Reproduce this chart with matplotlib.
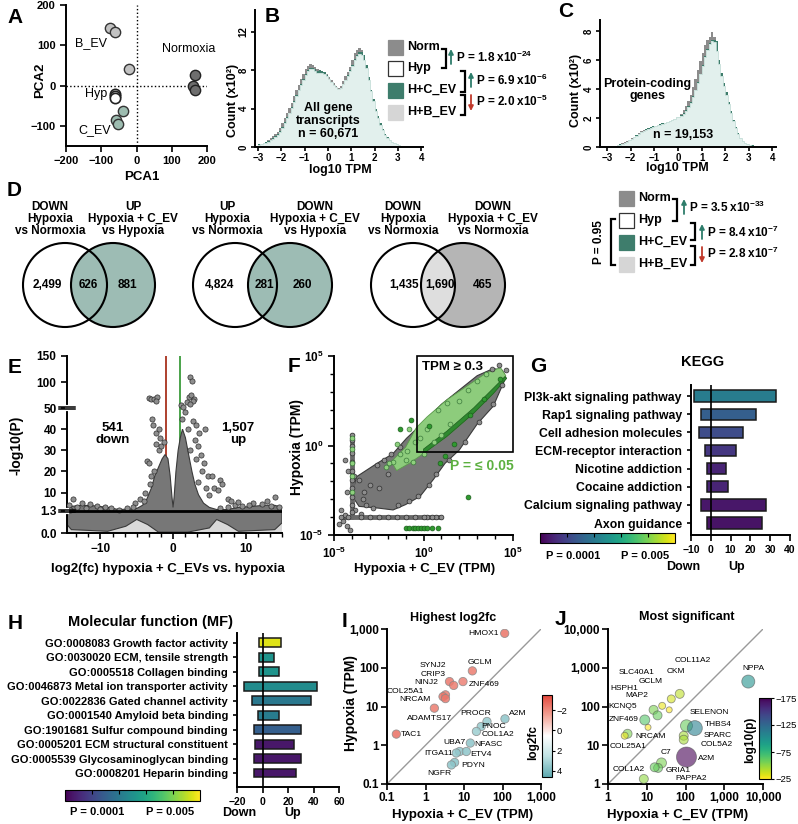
import numpy as np
import matplotlib
matplotlib.use('Agg')
import matplotlib.pyplot as plt
from matplotlib.patches import Circle, Rectangle, Polygon
from matplotlib.colors import LinearSegmentedColormap, LogNorm, Normalize
from matplotlib.cm import ScalarMappable
from matplotlib.ticker import NullLocator, NullFormatter, MultipleLocator

plt.rcParams['font.family'] = ['Liberation Sans', 'DejaVu Sans']
plt.rcParams['font.weight'] = 'bold'
plt.rcParams['axes.labelweight'] = 'bold'
plt.rcParams['mathtext.fontset'] = 'custom'
plt.rcParams['mathtext.rm'] = 'Liberation Sans:bold'
plt.rcParams['mathtext.bf'] = 'Liberation Sans:bold'
plt.rcParams['mathtext.it'] = 'Liberation Sans:bold'

W, H = 798, 824

# ---------------- data ----------------
# A: PCA scores
bev_pc1 = [-76, -62, -21]
bev_pc2 = [142, 133, 42]
norm_pc1 = [167, 160, 165]
norm_pc2 = [27, 0, -10]
hyp_pc1 = [-60, -60, -60]
hyp_pc2 = [-22, -25, -32]
cev_pc1 = [-38, -57, -52]
cev_pc2 = [-64, -85, -95]

# B/C: histograms of log10 TPM (counts x10^2), bins of 0.1 from -3 to 4
b_norm = [0.3, 0.35, 0.45, 0.55, 0.7, 0.9, 1.1, 1.35, 1.6, 2.0,
          2.5, 3.0, 3.6, 4.1, 4.6, 5.3, 5.9, 6.5, 7.1, 7.6,
          8.1, 8.5, 8.7, 8.6, 8.3, 8.1, 8.0, 7.9, 7.8, 7.6,
          7.3, 7.0, 6.7, 6.4, 6.2, 6.4, 6.9, 7.4, 7.8, 8.4,
          9.1, 9.8, 10.1, 10.3, 10.1, 9.3, 8.3, 7.0, 5.8, 4.8,
          3.9, 3.1, 2.4, 1.8, 1.3, 0.95, 0.7, 0.5, 0.38, 0.28,
          0.2, 0.15, 0.11, 0.08, 0.06, 0.04, 0.03, 0.02, 0.01, 0.01]
b_hcev = [0.28, 0.33, 0.4, 0.5, 0.6, 0.75, 0.9, 1.1, 1.35, 1.7,
          2.1, 2.6, 3.1, 3.6, 4.2, 4.8, 5.4, 6.0, 6.6, 7.1,
          7.6, 8.0, 8.2, 8.2, 8.1, 7.9, 8.0, 7.9, 7.8, 7.5,
          7.1, 6.8, 6.5, 6.3, 6.1, 6.2, 6.6, 7.0, 7.5, 8.0,
          8.6, 9.2, 9.6, 9.9, 9.9, 9.6, 8.6, 7.3, 6.0, 5.0,
          4.0, 3.2, 2.5, 1.85, 1.35, 1.0, 0.72, 0.52, 0.4, 0.29,
          0.2, 0.15, 0.11, 0.08, 0.06, 0.04, 0.03, 0.02, 0.01, 0.01]
b_light = [0.25, 0.3, 0.38, 0.45, 0.55, 0.7, 0.85, 1.05, 1.3, 1.6,
           2.0, 2.5, 3.0, 3.5, 4.1, 4.7, 5.3, 5.9, 6.5, 7.0,
           7.5, 7.9, 8.1, 8.1, 7.9, 7.7, 7.7, 7.7, 7.6, 7.4,
           7.1, 6.8, 6.5, 6.3, 6.1, 6.2, 6.6, 7.0, 7.4, 7.9,
           8.5, 9.1, 9.5, 9.7, 9.6, 9.1, 8.2, 7.0, 5.8, 4.8,
           3.8, 3.0, 2.3, 1.75, 1.3, 0.95, 0.7, 0.5, 0.38, 0.28,
           0.2, 0.15, 0.11, 0.08, 0.06, 0.04, 0.03, 0.02, 0.01, 0.01]
c_norm = [0.03, 0.05, 0.07, 0.1, 0.14, 0.19, 0.25, 0.32, 0.4, 0.5,
          0.6, 0.72, 0.85, 0.97, 1.08, 1.17, 1.25, 1.32, 1.38, 1.43,
          1.48, 1.52, 1.56, 1.6, 1.65, 1.7, 1.75, 1.82, 1.9, 2.0,
          2.1, 2.3, 2.55, 2.85, 3.2, 3.6, 4.1, 4.7, 5.3, 5.9,
          6.5, 7.0, 7.4, 7.6, 7.9, 7.6, 6.8, 5.8, 5.0, 4.4,
          3.7, 3.0, 2.4, 1.8, 1.3, 0.9, 0.6, 0.4, 0.28, 0.2,
          0.14, 0.1, 0.08, 0.06, 0.05, 0.04, 0.03, 0.02, 0.01, 0.01]
c_hcev = [0.03, 0.045, 0.065, 0.095, 0.13, 0.18, 0.23, 0.3, 0.37, 0.47,
          0.57, 0.68, 0.8, 0.92, 1.03, 1.13, 1.21, 1.29, 1.36, 1.42,
          1.47, 1.51, 1.56, 1.62, 1.68, 1.74, 1.8, 1.88, 1.96, 2.05,
          2.1, 2.2, 2.35, 2.55, 2.8, 3.1, 3.5, 3.95, 4.45, 5.05,
          5.65, 6.25, 6.75, 7.15, 7.35, 7.35, 7.3, 6.0, 5.1, 4.4,
          3.8, 3.1, 2.45, 1.85, 1.35, 0.95, 0.65, 0.42, 0.29, 0.21,
          0.15, 0.11, 0.08, 0.06, 0.05, 0.04, 0.03, 0.02, 0.01, 0.01]
c_light = [0.03, 0.04, 0.06, 0.09, 0.12, 0.17, 0.22, 0.28, 0.35, 0.45,
           0.55, 0.66, 0.78, 0.9, 1.0, 1.1, 1.18, 1.26, 1.33, 1.4,
           1.46, 1.5, 1.55, 1.6, 1.66, 1.72, 1.78, 1.86, 1.95, 2.05,
           2.05, 2.15, 2.3, 2.5, 2.75, 3.05, 3.45, 3.9, 4.4, 5.0,
           5.6, 6.2, 6.7, 7.1, 7.3, 7.2, 6.6, 5.7, 4.9, 4.2,
           3.6, 2.95, 2.35, 1.8, 1.3, 0.9, 0.6, 0.4, 0.28, 0.2,
           0.14, 0.1, 0.08, 0.06, 0.05, 0.04, 0.03, 0.02, 0.01, 0.01]
hist_labels = ['Norm', 'Hyp', 'H+C_EV', 'H+B_EV']
b_pvals = [r'P = 1.8 x10$^{-24}$', r'P = 6.9 x10$^{-6}$', r'P = 2.0 x10$^{-5}$']
c_pvals = [r'P = 3.5 x10$^{-33}$', r'P = 8.4 x10$^{-7}$', r'P = 2.8 x10$^{-7}$']

# D: Venn counts
venn_left_titles = ['DOWN\nHypoxia\nvs Normoxia', 'UP\nHypoxia\nvs Normoxia', 'DOWN\nHypoxia\nvs Normoxia']
venn_right_titles = ['UP\nHypoxia + C_EV\nvs Hypoxia', 'DOWN\nHypoxia + C_EV\nvs Hypoxia',
                     'DOWN\nHypoxia + C_EV\nvs Normoxia']
venn_left_only = [2499, 4824, 1435]
venn_overlap = [626, 281, 1690]
venn_right_only = [881, 260, 465]

# E: volcano (dense core outline + individual points), log2fc vs -log10(P)
e_cloud_x = [-14.6, -14.6, -14.0, -12.5, -11.0, -9.0, -7.5, -6.0, -5.0, -4.2, -3.6, -3.0, -2.5, -2.0,
             -1.5, -1.1, -0.7, -0.4, -0.15, 0.0, 0.15, 0.4, 0.7, 1.0, 1.3, 1.7, 2.2, 2.6, 3.0, 3.5,
             4.2, 5.0, 6.0, 7.5, 9.0, 11.0, 12.5, 14.0, 15.0, 15.0, 14.0, 9.0, 7.5, 6.0, 5.0, 2.0,
             -2.0, -3.5, -5.0, -6.5, -9.0, -14.0]
e_cloud_y = [0.5, 2.3, 3.5, 4.0, 3.8, 3.0, 2.0, 2.2, 2.5, 4.0, 7.0, 12.0, 18.0, 22.0,
             26.0, 28.0, 26.0, 18.0, 8.0, 3.0, 8.0, 20.0, 30.0, 36.0, 40.0, 36.0, 27.0, 20.0, 14.0, 9.0,
             5.0, 3.0, 2.0, 2.0, 3.0, 3.5, 4.0, 4.0, 3.0, 0.6, 0.2, 0.1, 0.5, 0.8, 0.3, 0.05,
             0.05, 0.5, 0.8, 0.4, 0.1, 0.2]
e_pts_x = [-3.3, -3.0, -2.6, -2.2, -2.4, -2.9, -2.7, -2.3, -2.0, -1.8, -3.6, -3.3, -2.4, -2.0, -1.6,
           -1.2, -2.6, -3.0, -3.2, -3.9, -4.5, -4.0, -5.2,
           2.3, 2.6, 2.2, 2.5, 2.9, 2.7, 1.9, 2.4, 1.1, 1.4, 1.6, 1.2, 2.8, 3.2, 4.4, 3.6, 2.0,
           3.0, 3.4, 3.8, 3.1, 2.3, 4.2, 4.0, 4.8, 5.3, 6.4, 6.8, 5.6, 6.2, 5.0, 7.5, 4.5, 3.5,
           -14.3, -13.8, -13.2, -12.5, -11.5, -10.5, -9.3, -8.5, -7.5, -6.3, -5.5, -14.2, -12.0, -10.0,
           14.0, 13.0, 12.2, 11.0, 10.5, 9.5, 8.5, 7.6, 6.5, 14.6, 13.5, 8.0, 9.0]
e_pts_y = [70, 68, 67, 72, 64, 45, 42, 38, 40, 36, 25, 24, 33, 30, 32,
           34, 20, 18, 14, 10, 7, 6, 5,
           110, 102, 72, 75, 68, 63, 62, 58, 55, 52, 48, 45, 44, 42, 40, 38, 40,
           35, 32, 28, 26, 30, 24, 20, 18, 18, 16, 14, 12, 11, 9, 7, 12, 15,
           4, 7, 3, 5, 4.5, 3.5, 3, 2.5, 2, 2.5, 3, 2, 2.5, 2.2,
           8, 6, 4.5, 5, 4, 3.5, 4, 3, 2.5, 3, 3.5, 6, 5.5]

# F: TPM scatter (log10 units): cloud outlines + individual points
f_gray_poly_lx = [-3.75, -2.6, -1.7, -0.95, 0.0, 1.0, 2.0, 3.0, 3.9, 4.4, 4.6, 3.9, 3.0, 2.0, 1.2,
                  0.55, -0.2, -1.0, -1.7, -2.5, -3.6, -4.0]
f_gray_poly_ly = [-1.75, -1.0, -0.45, 0.4, 1.3, 2.3, 3.1, 3.9, 4.3, 4.2, 3.8, 2.2, 1.2, -0.25, -1.0,
                  -1.9, -2.85, -3.3, -3.6, -3.5, -3.4, -2.8]
f_lgreen_poly_lx = [-1.8, -1.0, -0.4, 0.2, 1.3, 2.4, 3.5, 4.3, 4.6, 3.9, 2.8, 1.3, 0.0, -0.8, -1.5]
f_lgreen_poly_ly = [-0.9, -0.1, 1.0, 1.6, 2.55, 3.3, 4.05, 4.35, 3.9, 2.9, 1.8, 0.5, -0.45, -1.0, -1.4]
f_dgreen_poly_lx = [0.0, 1.3, 2.8, 3.9, 4.55, 4.65, 3.9, 2.8, 1.3, 0.0]
f_dgreen_poly_ly = [-0.2, 0.8, 2.1, 3.2, 3.85, 3.75, 2.9, 1.8, 0.5, -0.45]
f_gray_lx = [-4.7, -4.5, -4.3, -4.1, -4.4, -4.6, -3.8, -3.5, -3.2, -2.8, -3.3, -3.0, -3.6, -3.9, -2.6,
             -2.2, -1.8, -1.3, -2.0, -1.4, -0.8, -0.3, 0.3, 0.7, 1.4, 2.3, 3.1, 3.9, 4.4, 4.6, 4.2,
             3.8, -3.4, -2.5, -4.3, -4.2, -4.4,
             -4.0, -4.0, -4.0, -4.0, -4.0, -4.0, -4.0, -4.0, -4.0, -4.0, -4.0,
             -4.6, -3.5, -2.5, -1.5, -0.5, 0.2, 0.7, 1.0, -4.2, -3.0, -2.0, -1.0, 0.0, 0.5]
f_gray_ly = [-4.4, -4.2, -4.5, -4.7, -3.9, -3.6, -3.6, -3.8, -3.3, -3.5, -2.6, -2.2, -1.9, -1.7, -1.1,
             -0.8, -0.5, -0.1, -1.6, -3.3, -3.1, -2.8, -2.2, -1.6, -0.8, 0.2, 1.3, 2.3, 3.4, 4.2, 4.5,
             4.3, -3.0, -2.4, -2.6, -1.4, -0.8,
             -3.7, -3.3, -2.9, -2.4, -1.9, -1.4, -0.9, -0.4, 0.0, 0.3, 0.6,
             -4.0, -4.0, -4.0, -4.0, -4.0, -4.0, -4.0, -4.0, -4.0, -4.0, -4.0, -4.0, -4.0, -4.0]
f_lgreen_lx = [-4.0, -4.0, -4.0, -4.0, -4.0,
               -2.1, -1.7, -1.3, -0.9, -0.5, -0.2, 0.2, -1.9, -1.0, -0.6, 0.0, 0.6, 1.0, 1.5,
               2.0, 2.5, 3.0, 3.5, 0.8, 1.3, -0.8, -1.5]
f_lgreen_ly = [-2.6, -1.7, -1.0, -0.2, 0.4,
               -1.2, -0.9, -0.5, -0.3, 0.2, 0.4, 0.9, -1.0, -0.8, -0.9, -0.5, 0.2, 0.6, 1.2,
               2.5, 3.1, 3.6, 4.0, 2.0, 2.4, 0.9, 0.1]
f_dgreen_lx = [-1.0, -0.8, -0.6, -0.45, -0.3, -0.15, 0.0, 0.2, 0.5, 0.8,
               2.5, 1.2, 0.9, 1.7, 2.6, 3.4, 4.3, -1.3, -0.7, 0.3]
f_dgreen_ly = [-4.6, -4.6, -4.6, -4.6, -4.6, -4.6, -4.6, -4.6, -4.6, -4.6,
               -2.9, -0.6, -1.0, 0.1, 1.7, 2.6, 3.7, 0.9, 1.4, 1.1]

# G: KEGG pathways
kegg_terms = ['PI3k-akt signaling pathway', 'Rap1 signaling pathway', 'Cell adhesion molecules',
              'ECM-receptor interaction', 'Nicotine addiction', 'Cocaine addiction',
              'Calcium signaling pathway', 'Axon guidance']
kegg_down = [-8.5, -5, -6, -3, -2, -2, -5, -2]
kegg_up = [33, 23, 16.5, 12.5, 7.5, 8.5, 28, 26]
kegg_p = [3.6e-4, 1.5e-4, 9.2e-5, 5.5e-5, 3.6e-5, 3.6e-5, 2.7e-5, 2.5e-5]

# H: GO molecular function
mf_terms = ['GO:0008083 Growth factor activity', 'GO:0030020 ECM, tensile strength',
            'GO:0005518 Collagen binding', 'GO:0046873 Metal ion transporter activity',
            'GO:0022836 Gated channel activity', 'GO:0001540 Amyloid beta binding',
            'GO:1901681 Sulfur compound binding', 'GO:0005201 ECM structural constituent',
            'GO:0005539 Glycosaminoglycan binding', 'GO:0008201 Heparin binding']
mf_down = [-2.4, -2.4, -2.4, -14.2, -8.4, -3.7, -6.3, -5.5, -6.3, -6.3]
mf_up = [14.7, 8.7, 12.6, 42.5, 38.3, 12.6, 30.5, 25, 30.5, 26.5]
mf_p = [1.7e-2, 7.5e-4, 7.5e-4, 5.7e-4, 3.2e-4, 3.6e-4, 1.5e-4, 2.7e-5, 2.7e-5, 2.7e-5]

# I: highest log2fc genes
i_genes = ['HMOX1', 'GCLM', 'ZNF469', 'SYNJ2', 'CRIP3', 'NINJ2', 'COL25A1', 'NRCAM', 'ADAMTS17', 'TAC1',
           'A2M', 'PROCR', 'PNOC', 'COL1A2', 'NFASC', 'UBA7', 'ETV4', 'ITGA11', 'PDYN', 'NGFR']
i_hcev = [114, 16.5, 9.4, 4.2, 5.4, 3.3, 2.85, 3.3, 1.7, 0.175,
          116, 39.5, 28, 21, 14.6, 7.7, 11.5, 6.3, 5.7, 4.7]
i_hyp = [772, 83, 44, 44, 35, 20, 18, 16, 9.06, 1.94,
         4.8, 4.1, 3.05, 2.27, 1.14, 0.69, 0.69, 0.63, 0.36, 0.31]
i_log2fc = [-2.5, -2.3, -2.2, -2.4, -2.3, -2.3, -2.5, -2.4, -2.3, -2.6,
            3.6, 3.4, 3.4, 3.3, 3.6, 3.5, 3.6, 3.5, 3.7, 3.6]

# J: most significant genes
j_genes = ['COL11A2', 'CKM', 'SLC40A1', 'GCLM', 'HSPH1', 'MAP2', 'KCNQ5', 'ZNF469', 'NRCAM', 'COL25A1',
           'NPPA', 'SELENON', 'THBS4', 'SPARC', 'COL5A2', 'C7', 'A2M', 'COL1A2', 'GRIA1', 'PAPPA2']
j_hcev = [71, 43, 15, 25, 19, 38, 8.9, 10.8, 3.2, 2.7, 4170, 106, 174, 90, 90, 24, 106, 8.4, 19.6, 16]
j_hyp = [212, 157, 82, 104, 59, 82, 45, 29, 19.8, 17.6, 440, 31.8, 27.7, 17.6, 13.9, 3.5, 4.96, 1.35, 2.6, 2.7]
j_logp = [-40, -35, -55, -30, -60, -25, -65, -25, -55, -30, -100, -60, -110, -45, -45, -55, -175, -50, -60, -60]
j_bubble = [9, 8, 9, 7, 9, 6, 10, 6, 9, 7, 13, 12, 15, 9, 9, 10, 20, 9, 9, 9]

# label offsets (pixels) for gene names
i_offsets = [(-21, 0), (8, 8), (21, -3), (-17, 16), (-21, 11), (-19, 12), (-38, 5), (-31, -1), (-5, -10),
             (15, 0), (13, 5), (-11, 8), (12, 0), (22, -3), (18, -1), (-5, 9), (15, -3), (-18, 0),
             (19, -3), (-12, -9)]
j_offsets = [(13, 33), (5, 27), (-17, 37), (-11, 24), (-33, 27), (-32, 14), (-22, 13), (-24, 8), (23, -3),
             (3, -11), (5, 13), (23, 13), (23, 4), (34, 0), (33, -5), (4, 10), (20, -1), (-15, 9),
             (20, -3), (36, -11)]

# ---------------- styling helpers ----------------
GRAY = '#8c8c8c'
DKGREEN = '#3e7d6c'
LIGHT = '#e2f0ed'
TEAL = '#9dbcb4'


def px_rect(l, t, r, b):
    return [l / W, 1 - b / H, (r - l) / W, (b - t) / H]


def clean(ax, labelsize=8):
    for s in ('top', 'right'):
        ax.spines[s].set_visible(False)
    for s in ('left', 'bottom'):
        ax.spines[s].set_linewidth(1.4)
    ax.tick_params(width=1.2, length=4, labelsize=labelsize)


fig = plt.figure(figsize=(W / 100, H / 100), dpi=100)

# ---------------- A ----------------
ax = fig.add_axes(px_rect(66, 5, 207, 146))
clean(ax)
ax.axhline(0, color='k', ls=':', lw=1)
ax.axvline(0, color='k', ls=':', lw=1)
ax.scatter(bev_pc1, bev_pc2, s=55, c='#c2c2c2', edgecolors='#333', linewidths=1, zorder=3)
ax.scatter(norm_pc1, norm_pc2, s=55, c='#6e6e6e', edgecolors='#222', linewidths=1, zorder=3)
ax.scatter(hyp_pc1, hyp_pc2, s=55, c='white', edgecolors='#222', linewidths=1.2, zorder=3)
ax.scatter(cev_pc1, cev_pc2, s=55, c='#9dbcb0', edgecolors='#333', linewidths=1, zorder=3)
ax.set_xlim(-200, 200)
ax.set_ylim(-150, 200)
ax.set_xticks([-200, -100, 0, 100, 200])
ax.set_yticks([-100, 0, 100, 200])
for txt, x, y in [('B_EV', -128, 105), ('Normoxia', 147, 90), ('Hyp', -114, -22), ('C_EV', -119, -110)]:
    ax.text(x, y, txt, ha='center', va='center', fontsize=9, fontweight='normal')

# ---------------- B / C histograms ----------------
edges = np.round(np.linspace(-3, 4, 71), 2)
for rect, norm_v, hcev_v, light_v, xl, yl, yt in [
        ((255, 10, 423, 147), b_norm, b_hcev, b_light, (-3.13, 4.08), 14.3, [0, 4, 8, 12]),
        ((600, 20, 776, 147), c_norm, c_hcev, c_light, (-3.3, 4.15), 8.75, [0, 2, 4, 6, 8])]:
    ax = fig.add_axes(px_rect(*rect))
    clean(ax, labelsize=7)
    ax.tick_params(length=3, pad=1.5)
    ax.stairs(norm_v, edges, fill=True, color=GRAY)
    ax.stairs(hcev_v, edges, fill=True, color=DKGREEN)
    ax.stairs(light_v, edges, fill=True, color=LIGHT)
    ax.stairs(light_v, edges, color='#c3ddd7', lw=0.6)
    ax.set_xlim(*xl)
    ax.set_ylim(0, yl)
    ax.set_xticks(range(-3, 5))
    ax.set_yticks(yt)
    ax.tick_params(axis='y', labelrotation=90)
    for t in ax.get_yticklabels():
        t.set_va('center')

# ---------------- E volcano ----------------
e_brk_val = [0, 1.3, 50, 150]
e_brk_pos = [0, 0.1243, 0.706, 1.0]


def e_fwd(y):
    return np.interp(y, e_brk_val, e_brk_pos)


def e_inv(v):
    return np.interp(v, e_brk_pos, e_brk_val)


ax = fig.add_axes(px_rect(67, 356, 282, 533))
clean(ax, labelsize=8.5)
ax.set_yscale('function', functions=(e_fwd, e_inv))
ax.set_xlim(-14.6, 15.0)
ax.set_ylim(0, 150)
ax.axhspan(0, 1.3, color='#d9d9d9', zorder=0)
ax.axvline(-1, color='#a8321e', lw=1.3, zorder=1)
ax.axvline(1, color='#3c9c3c', lw=1.3, zorder=1)
ax.add_patch(Polygon(np.column_stack([e_cloud_x, e_cloud_y]), closed=True, fc='#777777',
                     ec='#3a3a3a', lw=0.8, zorder=2))
ax.scatter(e_pts_x, e_pts_y, s=14, c='#8e8e8e', edgecolors='#2e2e2e', linewidths=0.5, zorder=3)
ax.axhline(1.3, color='k', lw=2, zorder=4)
ax.set_yticks([0, 1.3, 10, 20, 30, 40, 50, 100, 150])
ax.set_yticklabels(['0.0', '1.3', '10', '20', '30', '40', '50', '100', '150'])
ax.yaxis.set_minor_locator(NullLocator())
ax.set_xticks([-10, 0, 10])
ax.xaxis.set_minor_locator(MultipleLocator(5 / 3))
ax.tick_params(which='minor', length=3, width=1)
for b in (1.3, 50):
    f = e_fwd(b)
    ax.plot([0, 0], [f - 0.008, f + 0.008], color='white', lw=3, transform=ax.transAxes,
            clip_on=False, zorder=6)
    for dy in (-0.007, 0.007):
        ax.plot([-0.035, 0.035], [f + dy, f + dy], color='k', lw=1.1, transform=ax.transAxes,
                clip_on=False, zorder=7)

# ---------------- F scatter ----------------
ax = fig.add_axes(px_rect(334, 356, 513, 535))
clean(ax, labelsize=8.5)
ax.set_xscale('log')
ax.set_yscale('log')
ax.set_xlim(1e-5, 1e5)
ax.set_ylim(1e-5, 1e5)


def poly_log(lx, ly, **kw):
    return Polygon(np.column_stack([10.0 ** np.array(lx), 10.0 ** np.array(ly)]), closed=True, **kw)


ax.add_patch(poly_log(f_gray_poly_lx, f_gray_poly_ly, fc='#777777', ec='#3a3a3a', lw=0.8, zorder=1))
ax.plot([1e-4, 1e-4], [10 ** -4.0, 10 ** 0.6], color='#6a6a6a', lw=3.5, zorder=1, solid_capstyle='round')
ax.plot([10 ** -4.6, 10 ** 1.0], [1e-4, 1e-4], color='#6a6a6a', lw=3.5, zorder=1, solid_capstyle='round')
ax.add_patch(poly_log(f_lgreen_poly_lx, f_lgreen_poly_ly, fc='#8dcc7c', ec='#5c9c4c', lw=0.6, zorder=2))
ax.add_patch(poly_log(f_dgreen_poly_lx, f_dgreen_poly_ly, fc='#2f8a2f', ec='#1d5e1d', lw=0.5, zorder=2))
ax.scatter(10.0 ** np.array(f_gray_lx), 10.0 ** np.array(f_gray_ly), s=12, c='#8e8e8e',
           edgecolors='#2e2e2e', linewidths=0.5, zorder=3)
ax.scatter(10.0 ** np.array(f_lgreen_lx), 10.0 ** np.array(f_lgreen_ly), s=12, c='#8fd07e',
           edgecolors='#3c7a3c', linewidths=0.5, zorder=4)
ax.scatter(10.0 ** np.array(f_dgreen_lx), 10.0 ** np.array(f_dgreen_ly), s=12, c='#2f9a2f',
           edgecolors='#1d5e1d', linewidths=0.5, zorder=4)
ax.add_patch(Rectangle((0.45, 0.45), 1e5 - 0.45, 1e5 - 0.45, fill=False, ec='k', lw=1.2,
                       clip_on=False, zorder=5))
ax.set_xticks([1e-5, 1, 1e5])
ax.set_yticks([1e-5, 1, 1e5])
ax.set_xticklabels([r'10$^{-5}$', r'10$^{0}$', r'10$^{5}$'])
ax.set_yticklabels([r'10$^{-5}$', r'10$^{0}$', r'10$^{5}$'])
ax.set_xticks([10.0 ** k for k in range(-5, 6)], minor=True)
ax.set_yticks([10.0 ** k for k in range(-5, 6)], minor=True)
ax.xaxis.set_minor_formatter(NullFormatter())
ax.yaxis.set_minor_formatter(NullFormatter())
ax.tick_params(which='minor', length=3, width=1)

# ---------------- G / H bar charts ----------------
pnorm = LogNorm(vmin=10 ** -4.76, vmax=10 ** -1.61)
vir = plt.get_cmap('viridis')


def updown(rect, terms, down, up, pv, xl, xt, ylim, fs):
    ax = fig.add_axes(px_rect(*rect))
    clean(ax, labelsize=7.5)
    yy = np.arange(len(terms))
    ax.barh(yy, np.array(up) - np.array(down), left=down, height=0.62, color=vir(pnorm(pv)),
            edgecolor='#1a1a1a', linewidth=1.1, zorder=2)
    ax.axvline(0, color='k', lw=1.2, zorder=3)
    ax.set_xlim(*xl)
    ax.set_ylim(*ylim)
    ax.set_xticks(xt)
    ax.set_yticks(yy)
    ax.set_yticklabels(terms, fontsize=fs)
    ax.tick_params(axis='y', length=3)
    return ax


updown((691, 385, 790, 535), kegg_terms, kegg_down, kegg_up, kegg_p, (-10, 40),
       [-10, 0, 10, 20, 30, 40], (7.66, -0.61), 8.8)
updown((237, 633, 339, 787), mf_terms, mf_down, mf_up, mf_p, (-20, 60),
       [-20, 0, 20, 40, 60], (9.97, -0.69), 8)

for rect in [(540, 533, 675, 543), (65, 790, 200, 801)]:
    cax = fig.add_axes(px_rect(*rect))
    cb = fig.colorbar(ScalarMappable(norm=Normalize(0, 1), cmap=vir), cax=cax, orientation='horizontal')
    cb.outline.set_linewidth(0.8)
    cax.xaxis.set_ticks_position('top')
    cb.set_ticks([0.2, 0.4, 0.6, 0.8])
    cax.tick_params(direction='in', length=3, width=0.8, labelsize=0, labeltop=False)

# ---------------- I / J gene scatter ----------------
rb_cmap = LinearSegmentedColormap.from_list('rb', ['#e2463a', '#f3a497', '#ffffff', '#bfe2e4', '#5ea9b0'])
inorm = Normalize(-3.5, 4.6)
jnorm = Normalize(-175, -25)


def gene_axes(rect, lim, ticks, labels):
    ax = fig.add_axes(px_rect(*rect))
    clean(ax, labelsize=8.5)
    ax.set_xscale('log')
    ax.set_yscale('log')
    ax.set_xlim(*lim)
    ax.set_ylim(*lim)
    ax.plot(lim, lim, color='#9a9a9a', lw=1, zorder=1)
    ax.set_xticks(ticks)
    ax.set_yticks(ticks)
    ax.set_xticklabels(labels)
    ax.set_yticklabels(labels)
    ax.minorticks_off()
    ax.tick_params(pad=2)
    return ax


ax = gene_axes((387, 629, 541, 784), (0.1, 1000), [0.1, 1, 10, 100, 1000],
               ['0.1', '1', '10', '100', '1,000'])
ax.scatter(i_hcev, i_hyp, c=i_log2fc, cmap=rb_cmap, norm=inorm, s=36, edgecolors='#8a8a8a',
           linewidths=0.6, alpha=0.85, zorder=3)
for g, x, y, off in zip(i_genes, i_hcev, i_hyp, i_offsets):
    ax.annotate(g, (x, y), xytext=off, textcoords='offset pixels', ha='center', va='center',
                fontsize=6.1, fontweight='normal', zorder=4)

ax = gene_axes((608, 629, 763, 784), (1, 10000), [1, 10, 100, 1000, 10000],
               ['1', '10', '100', '1,000', '10,000'])
ax.scatter(j_hcev, j_hyp, c=j_logp, cmap=vir, norm=jnorm, s=(np.array(j_bubble) * 0.72) ** 2,
           edgecolors='#555555', linewidths=0.6, alpha=0.6, zorder=3)
for g, x, y, off in zip(j_genes, j_hcev, j_hyp, j_offsets):
    ax.annotate(g, (x, y), xytext=off, textcoords='offset pixels', ha='center', va='center',
                fontsize=6.0, fontweight='normal', zorder=4)

for rect, cmap, nrm, ticks in [((542, 695, 552, 777), rb_cmap, inorm, [-2, 0, 2, 4]),
                               ((759, 698, 771, 779), vir, jnorm, [-175, -125, -75, -25])]:
    cax = fig.add_axes(px_rect(*rect))
    cb = fig.colorbar(ScalarMappable(norm=nrm, cmap=cmap), cax=cax)
    cb.outline.set_linewidth(0.8)
    cb.set_ticks(ticks)
    cax.invert_yaxis()
    cax.tick_params(labelsize=6.8, length=2, width=0.8, pad=1.5)
    for t in cax.get_yticklabels():
        t.set_fontweight('normal')

# ---------------- overlay: letters, labels, legends, Venn ----------------
ov = fig.add_axes([0, 0, 1, 1], zorder=10)
ov.set_xlim(0, W)
ov.set_ylim(H, 0)
ov.axis('off')

for letter, x, y in [('A', 7, 8), ('B', 265, 7), ('C', 558, 2), ('D', 7, 181), ('E', 8, 358),
                     ('F', 288, 357), ('G', 530, 357), ('H', 8, 614), ('I', 342, 612), ('J', 555, 610)]:
    ov.text(x, y, letter, ha='left', va='top', fontsize=15)

axis_labels = [
    (142, 177, 'PCA1', 0, 9.5), (40, 80, 'PCA2', 90, 9.5),
    (340, 170, 'log10 TPM', 0, 9), (233, 100, 'Count (x10²)', 90, 9),
    (677, 168, 'log10 TPM', 0, 9), (576, 90, 'Count (x10²)', 90, 9),
    (168, 569, 'log2(fc) hypoxia + C_EVs vs. hypoxia', 0, 9.5), (17, 445, '-log10(P)', 90, 10),
    (425, 569, 'Hypoxia + C_EV (TPM)', 0, 9.5), (297, 447, 'Hypoxia (TPM)', 90, 10),
    (463, 815, 'Hypoxia + C_EV (TPM)', 0, 9.5), (351, 703, 'Hypoxia (TPM)', 90, 10),
    (678, 815, 'Hypoxia + C_EV (TPM)', 0, 9.5),
    (683, 567, 'Down', 0, 9), (737, 567, 'Up', 0, 9), (239, 813, 'Down', 0, 9), (293, 813, 'Up', 0, 9),
    (533, 742, 'log2fc', 90, 8.5), (750, 740, 'log10(p)', 90, 8.5),
    (573, 556, 'P = 0.0001', 0, 8), (645, 556, 'P = 0.005', 0, 8),
    (97, 812, 'P = 0.0001', 0, 8), (170, 812, 'P = 0.005', 0, 8),
    (703, 362, 'KEGG', 0, 10.5), (150, 622, 'Molecular function (MF)', 0, 10.5),
    (453, 618, 'Highest log2fc', 0, 9), (687, 617, 'Most significant', 0, 9),
]
for x, y, s, rot, fs in axis_labels:
    ov.text(x, y, s, ha='center', va='center', rotation=rot, fontsize=fs)

ov.text(328, 121, 'All gene\ntranscripts\nn = 60,671', ha='center', va='center', fontsize=9,
        linespacing=1.1)
ov.text(647, 90, 'Protein-coding\ngenes', ha='center', va='center', fontsize=9, linespacing=1.1)
ov.text(683, 135, 'n = 19,153', ha='center', va='center', fontsize=9)
ov.text(113, 434, '541\ndown', ha='center', va='center', fontsize=9.5, linespacing=1.05)
ov.text(238, 434, '1,507\nup', ha='center', va='center', fontsize=9.5, linespacing=1.05)
ov.text(452, 367, 'TPM ≥ 0.3', ha='center', va='center', fontsize=9.5)
ov.text(482, 466, 'P = ≤ 0.05', ha='center', va='center', fontsize=10, color='#5cb040')

# histogram legends
swatch_fc = [GRAY, 'white', DKGREEN, '#d6d6d6']
swatch_ec = [GRAY, '#333333', DKGREEN, '#d6d6d6']


def bracket(x, y0, y1, tick=4, left=False):
    d = tick if left else -tick
    ov.plot([x + d, x, x, x + d], [y0, y0, y1, y1], color='k', lw=1.6, solid_joinstyle='miter')


def arrow(x, y0, y1, color):
    ov.annotate('', xy=(x, y1), xytext=(x, y0),
                arrowprops=dict(arrowstyle='-|>', color=color, lw=1.3, mutation_scale=7,
                                shrinkA=0, shrinkB=0))


for (sx, tx, ys, br, pv_txt) in [
        (388, 407, [47, 68, 90, 112], [(446, 49, 68, 451, 57, 'up'), (465, 71, 92, 471, 80, 'up'),
                                       (465, 95, 115, 471, 101, 'down')], b_pvals),
        (619, 638, [198, 220, 242, 264], [(677, 199, 221, 684, 207, 'up'), (695, 223, 240, 702, 232, 'up'),
                                          (695, 246, 265, 702, 253, 'down')], c_pvals)]:
    for lab, fc, ec, yc in zip(hist_labels, swatch_fc, swatch_ec, ys):
        ov.add_patch(Rectangle((sx, yc - 7.5), 15, 15, fc=fc, ec=ec, lw=0.9))
        ov.text(tx, yc, lab, ha='left', va='center', fontsize=9)
    for (bx, y0, y1, ax_, ty, dirn), ptxt in zip(br, pv_txt):
        bracket(bx, y0, y1)
        if dirn == 'up':
            arrow(ax_, ty + 7, ty - 8, '#2e7d6b')
        else:
            arrow(ax_, ty - 6, ty + 10, '#c0392b')
        ov.text(ax_ + 5, ty, ptxt, ha='left', va='center', fontsize=8.5)

bracket(611, 219, 265, left=True)
ov.text(599, 242, 'P = 0.95', ha='center', va='center', rotation=90, fontsize=8.5)

# Venn diagrams
venn_left_cx = [65, 235, 413]
venn_right_cx = [113, 290, 463]
venn_num_x = [(47, 88, 127), (220, 264, 302), (404, 440, 483)]
venn_title_left_x = [50, 227, 403]
venn_title_right_x = [133, 315, 493]
venn_cy, venn_r = 285, 42
for k in range(3):
    lc, rc = venn_left_cx[k], venn_right_cx[k]
    right_fc = TEAL if k < 2 else '#b5b5b5'
    ov.add_patch(Circle((lc, venn_cy), venn_r, fc='white', ec='none'))
    ov.add_patch(Circle((rc, venn_cy), venn_r, fc=right_fc, ec='none'))
    if k == 2:
        clip = Circle((lc, venn_cy), venn_r, transform=ov.transData)
        inner = Circle((rc, venn_cy), venn_r, fc='#dedede', ec='none')
        ov.add_patch(inner)
        inner.set_clip_path(clip)
    ov.add_patch(Circle((lc, venn_cy), venn_r, fc='none', ec='k', lw=1.5))
    ov.add_patch(Circle((rc, venn_cy), venn_r, fc='none', ec='k', lw=1.5))
    for xv, n in zip(venn_num_x[k], [venn_left_only[k], venn_overlap[k], venn_right_only[k]]):
        ov.text(xv, venn_cy, f'{n:,}', ha='center', va='center', fontsize=8.5)
    ov.text(venn_title_left_x[k], 219, venn_left_titles[k], ha='center', va='center', fontsize=8.5,
            linespacing=1.05)
    ov.text(venn_title_right_x[k], 219, venn_right_titles[k], ha='center', va='center', fontsize=8.5,
            linespacing=1.05)

fig.savefig('out.png', dpi=100)
